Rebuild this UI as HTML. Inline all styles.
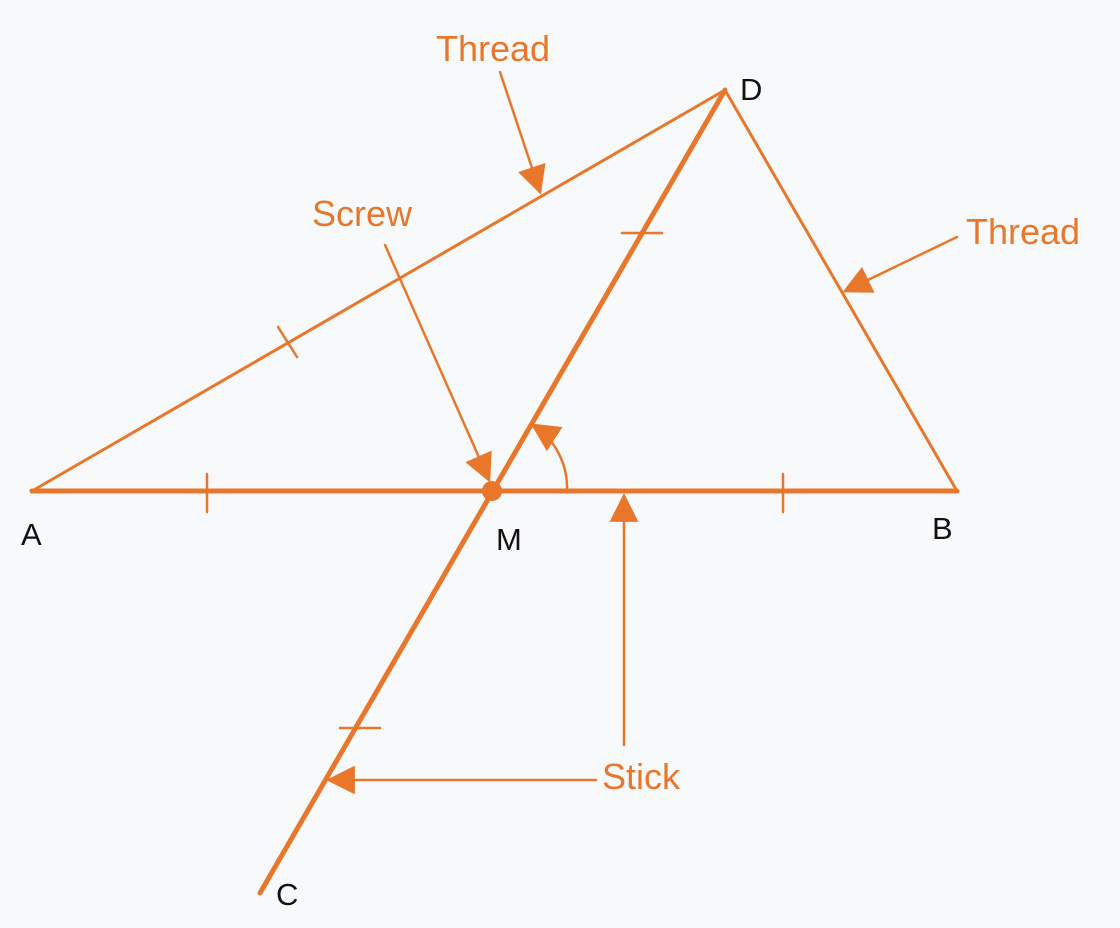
<!DOCTYPE html><html><head><style>body{margin:0;background:#f8f9fb}svg{display:block}</style></head><body>
<svg width="1120" height="928" viewBox="0 0 1120 928" xmlns="http://www.w3.org/2000/svg">
<defs>
<marker id="a2" viewBox="0 0 10 10" refX="9" refY="5" markerWidth="11.5" markerHeight="11.5" orient="auto"><path d="M0,0L10,5L0,10z" fill="#e8772b"/></marker></defs>
<g stroke="#e8772b" fill="none" stroke-linecap="round">
<line x1="32" y1="491" x2="725" y2="90" stroke-width="3"/>
<line x1="725" y1="90" x2="957" y2="491" stroke-width="3"/>
<line x1="32" y1="491" x2="957" y2="491" stroke-width="5"/>
<line x1="260" y1="893" x2="725" y2="90" stroke-width="5"/>
<g stroke-width="2.5">
<line x1="207" y1="474" x2="207" y2="512"/><line x1="783" y1="474" x2="783" y2="512"/>
<line x1="278" y1="327" x2="297" y2="357"/>
<line x1="622" y1="233" x2="662" y2="233"/><line x1="340" y1="728" x2="380" y2="728"/>
<line x1="500" y1="72" x2="540" y2="192" marker-end="url(#a2)"/>
<line x1="385" y1="245" x2="489" y2="480" marker-end="url(#a2)"/>
<line x1="957" y1="237" x2="845" y2="291" marker-end="url(#a2)"/>
<line x1="624" y1="745" x2="624" y2="496" marker-end="url(#a2)"/>
<line x1="596" y1="780" x2="329" y2="780" marker-end="url(#a2)"/>
<path d="M567,491 A75,75 0 0 0 533,425" marker-end="url(#a2)"/>
</g></g>
<circle cx="492" cy="491" r="10" fill="#e8772b"/>
<g font-family="Liberation Sans, sans-serif" font-size="36" fill="#e8772b">
<text x="436" y="61">Thread</text><text x="312" y="226">Screw</text><text x="966" y="244">Thread</text><text x="602" y="789">Stick</text></g>
<g font-family="Liberation Sans, sans-serif" font-size="31" fill="#111">
<text x="21" y="545">A</text><text x="496" y="550">M</text><text x="932" y="539">B</text><text x="740" y="100">D</text><text x="276" y="905">C</text></g>
</svg></body></html>
